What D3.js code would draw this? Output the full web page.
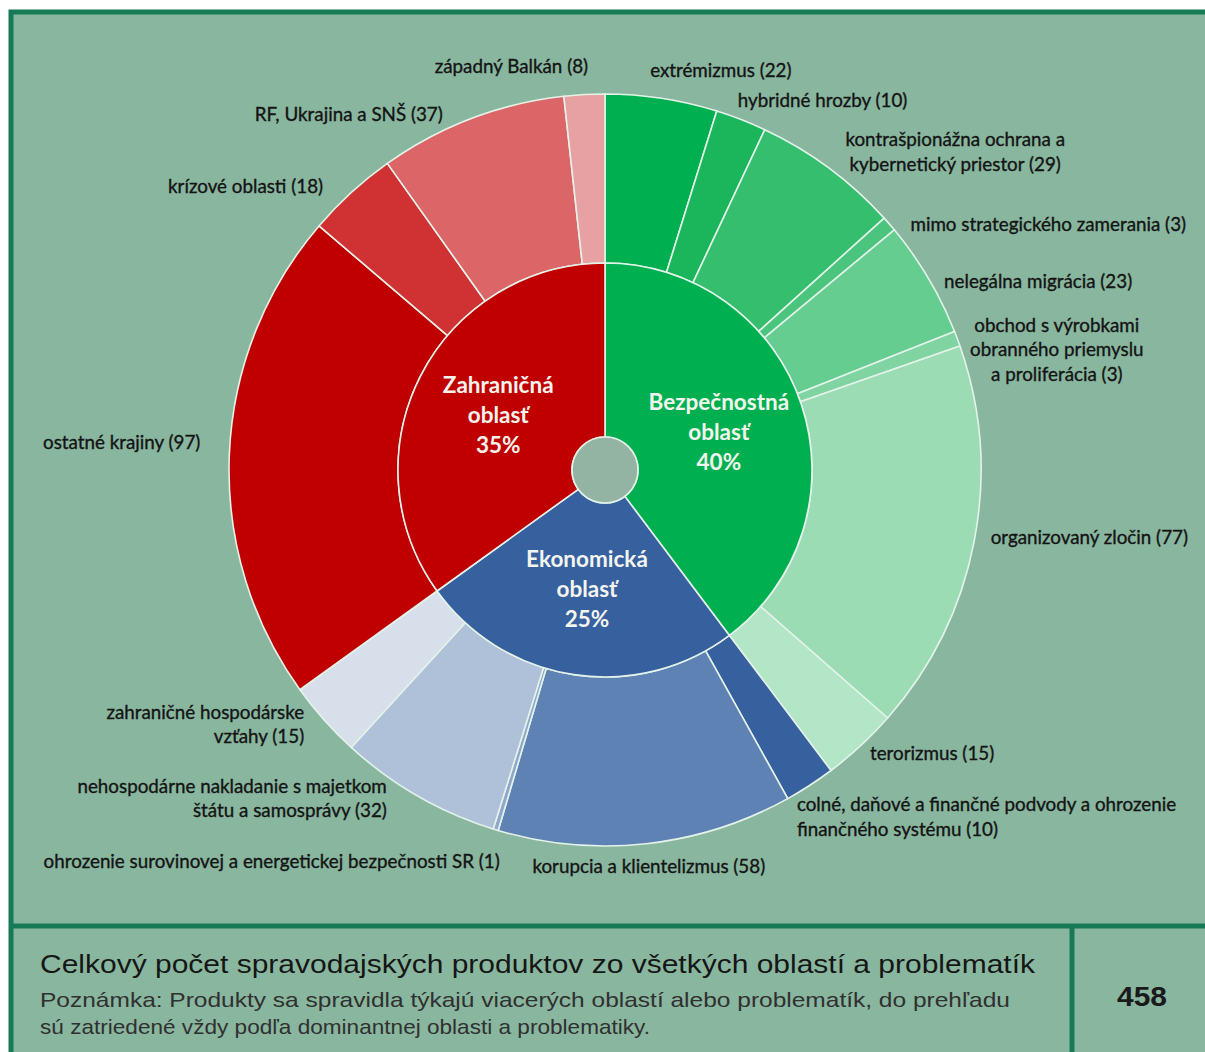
<!DOCTYPE html>
<html><head><meta charset="utf-8">
<script src="https://cdn.jsdelivr.net/npm/d3@7"></script>
<style>
html,body{margin:0;padding:0;background:#fff;}
svg{display:block;}
</style></head>
<body>
<script>
// ---------- data ----------
const areas = ["Bezpečnostná oblasť", "Ekonomická oblasť", "Zahraničná oblasť"];
const areaLines = [["Bezpečnostná", "oblasť"], ["Ekonomická", "oblasť"], ["Zahraničná", "oblasť"]];
const areaColors = ["#00b050", "#36609e", "#c00000"];

const topics = [
  "extrémizmus", "hybridné hrozby", "kontrašpionážna a kybernetický priestor",
  "mimo strategického zamerania", "nelegálna migrácia",
  "obchod s výrobkami obranného priemyslu a proliferácia", "organizovaný zločin", "terorizmus",
  "colné, daňové a finančné podvody a ohrozenie finančného systému", "korupcia a klientelizmus",
  "ohrozenie surovinovej a energetickej bezpečnosti SR", "nehospodárne nakladanie s majetkom štátu a samosprávy",
  "zahraničné hospodárske vzťahy",
  "ostatné krajiny", "krízové oblasti", "RF, Ukrajina a SNŠ", "západný Balkán"
];
const topicArea = [0,0,0,0,0,0,0,0, 1,1,1,1,1, 2,2,2,2];
const topicValues = [22, 10, 29, 3, 23, 3, 77, 15, 10, 58, 1, 32, 15, 97, 18, 37, 8];
const topicLabelLines = [
  ["extrémizmus (22)"], ["hybridné hrozby (10)"],
  ["kontrašpionážna ochrana a", "kybernetický priestor (29)"],
  ["mimo strategického zamerania (3)"], ["nelegálna migrácia (23)"],
  ["obchod s výrobkami", "obranného priemyslu", "a proliferácia (3)"],
  ["organizovaný zločin (77)"], ["terorizmus (15)"],
  ["colné, daňové a finančné podvody a ohrozenie", "finančného systému (10)"],
  ["korupcia a klientelizmus (58)"],
  ["ohrozenie surovinovej a energetickej bezpečnosti SR (1)"],
  ["nehospodárne nakladanie s majetkom", "štátu a samosprávy (32)"],
  ["zahraničné hospodárske", "vzťahy (15)"],
  ["ostatné krajiny (97)"], ["krízové oblasti (18)"], ["RF, Ukrajina a SNŠ (37)"], ["západný Balkán (8)"]
];
const topicColors = ["#00b050", "#1bb65c", "#34be6d", "#4bc57e", "#66cd90", "#7fd4a1", "#9bdcb5", "#b3e5c7",
  "#36609e", "#5e82b4", "#8ea7cb", "#afc0d9", "#d7dfea",
  "#c00000", "#d03233", "#dc6667", "#e8a1a2"];

const totalLabel = "Celkový počet spravodajských produktov zo všetkých oblastí a problematík";
const noteLines = ["Poznámka: Produkty sa spravidla týkajú viacerých oblastí alebo problematík, do prehľadu",
                   "sú zatriedené vždy podľa dominantnej oblasti a problematiky."];

// ---------- label layout (anchor + nudge from a point at the slice's mid-angle) ----------
const labelAnchor = ["start","start","middle","start","start","middle","start","start",
                     "start","middle","end","end","end","end","end","end","end"];
const labelNudge = [[-15,-4],[-12,4],[112,4],[3,17],[-5,16],[77,20],[-7,-8],[-7,-9],
                    [-26,12],[0,-1],[11,9],[-19,-18],[-2,-11],[-5,-11],[-12,12],[-20,19],[5,-4]];

// ---------- drawing ----------
const W = 1205, H = 1052;
const cx = 605, cy = 470, R0 = 33, R1 = 207, R2 = 376, RL = 400;
const bg = "#89b69f", frame = "#167a56";

const svg = d3.select("body").append("svg").attr("width", W).attr("height", H);
svg.append("rect").attr("x",0).attr("y",0).attr("width",W).attr("height",H).attr("fill","#fff");
svg.append("rect").attr("x",11).attr("y",12).attr("width",W+20).attr("height",H+20)
  .attr("fill",bg).attr("stroke",frame).attr("stroke-width",5);
svg.append("line").attr("x1",11).attr("x2",W).attr("y1",926).attr("y2",926)
  .attr("stroke",frame).attr("stroke-width",5);
svg.append("line").attr("x1",1072).attr("x2",1072).attr("y1",926).attr("y2",H)
  .attr("stroke",frame).attr("stroke-width",5);

const total = d3.sum(topicValues);
const areaSums = areas.map((a,i) => d3.sum(topicValues.filter((v,j) => topicArea[j] === i)));

const pie = d3.pie().sort(null).value(d => d).startAngle(0).endAngle(2*Math.PI);
const innerArcs = pie(areaSums);
const outerArcs = pie(topicValues);

const g = svg.append("g").attr("transform", `translate(${cx},${cy})`);
const arcInner = d3.arc().innerRadius(R0).outerRadius(R1);
const arcOuter = d3.arc().innerRadius(R1).outerRadius(R2);
const strokeCol = "#e4f3ea";

g.selectAll("path.outer").data(outerArcs).join("path").attr("class","outer")
  .attr("d", arcOuter).attr("fill", (d,i) => topicColors[i])
  .attr("stroke", strokeCol).attr("stroke-width", 1.6).attr("stroke-linejoin","round");
g.selectAll("path.inner").data(innerArcs).join("path").attr("class","inner")
  .attr("d", arcInner).attr("fill", (d,i) => areaColors[i])
  .attr("stroke", strokeCol).attr("stroke-width", 1.6).attr("stroke-linejoin","round");
g.append("circle").attr("r", R0).attr("fill", "#93b3a3").attr("stroke", strokeCol).attr("stroke-width", 1.6);

// inner labels
innerArcs.forEach((d,i) => {
  const [x,y] = d3.arc().innerRadius(120).outerRadius(120).centroid(d);
  const lines = areaLines[i].concat([Math.round(areaSums[i]/total*100) + "%"]);
  const t = g.append("text").attr("text-anchor","middle")
    .attr("font-family","Lato, 'Open Sans', sans-serif").attr("font-weight","bold")
    .attr("font-size", 22.5).attr("fill", "#f4f4ee");
  lines.forEach((ln,k) => {
    t.append("tspan").attr("x", x).attr("y", y + (k - (lines.length-1)/2)*30 + 8).text(ln);
  });
});

// outer labels
outerArcs.forEach((d,i) => {
  const a = (d.startAngle + d.endAngle)/2;
  const bx = RL*Math.sin(a) + labelNudge[i][0];
  const by = -RL*Math.cos(a) + labelNudge[i][1];
  const lines = topicLabelLines[i];
  const t = g.append("text").attr("text-anchor", labelAnchor[i])
    .attr("font-family","Lato, 'Open Sans', sans-serif")
    .attr("font-size", 18.8).attr("fill", "#141414")
    .attr("stroke", "#141414").attr("stroke-width", 0.35);
  lines.forEach((ln,k) => {
    t.append("tspan").attr("x", bx).attr("y", by + (k - (lines.length-1)/2)*24.5 + 6).text(ln);
  });
});

// bottom table text
svg.append("text").attr("x", 40).attr("y", 973).attr("font-family","'Liberation Sans', Arial, sans-serif")
  .attr("font-size", 26).attr("fill","#161616").attr("textLength", 995).attr("lengthAdjust","spacingAndGlyphs")
  .text(totalLabel);
noteLines.forEach((ln,k) => {
  svg.append("text").attr("x", 40).attr("y", 1007 + k*27).attr("font-family","'Liberation Sans', Arial, sans-serif")
    .attr("font-size", 21).attr("fill","#303030").attr("textLength", k===0 ? 970 : 610).attr("lengthAdjust","spacingAndGlyphs")
    .text(ln);
});
svg.append("text").attr("x", 1142).attr("y", 1006).attr("text-anchor","middle")
  .attr("font-family","'Liberation Sans', Arial, sans-serif").attr("font-weight","bold")
  .attr("font-size", 27).attr("fill","#1a1a1a").attr("textLength", 50).attr("lengthAdjust","spacingAndGlyphs")
  .text(total);
</script>
</body></html>
